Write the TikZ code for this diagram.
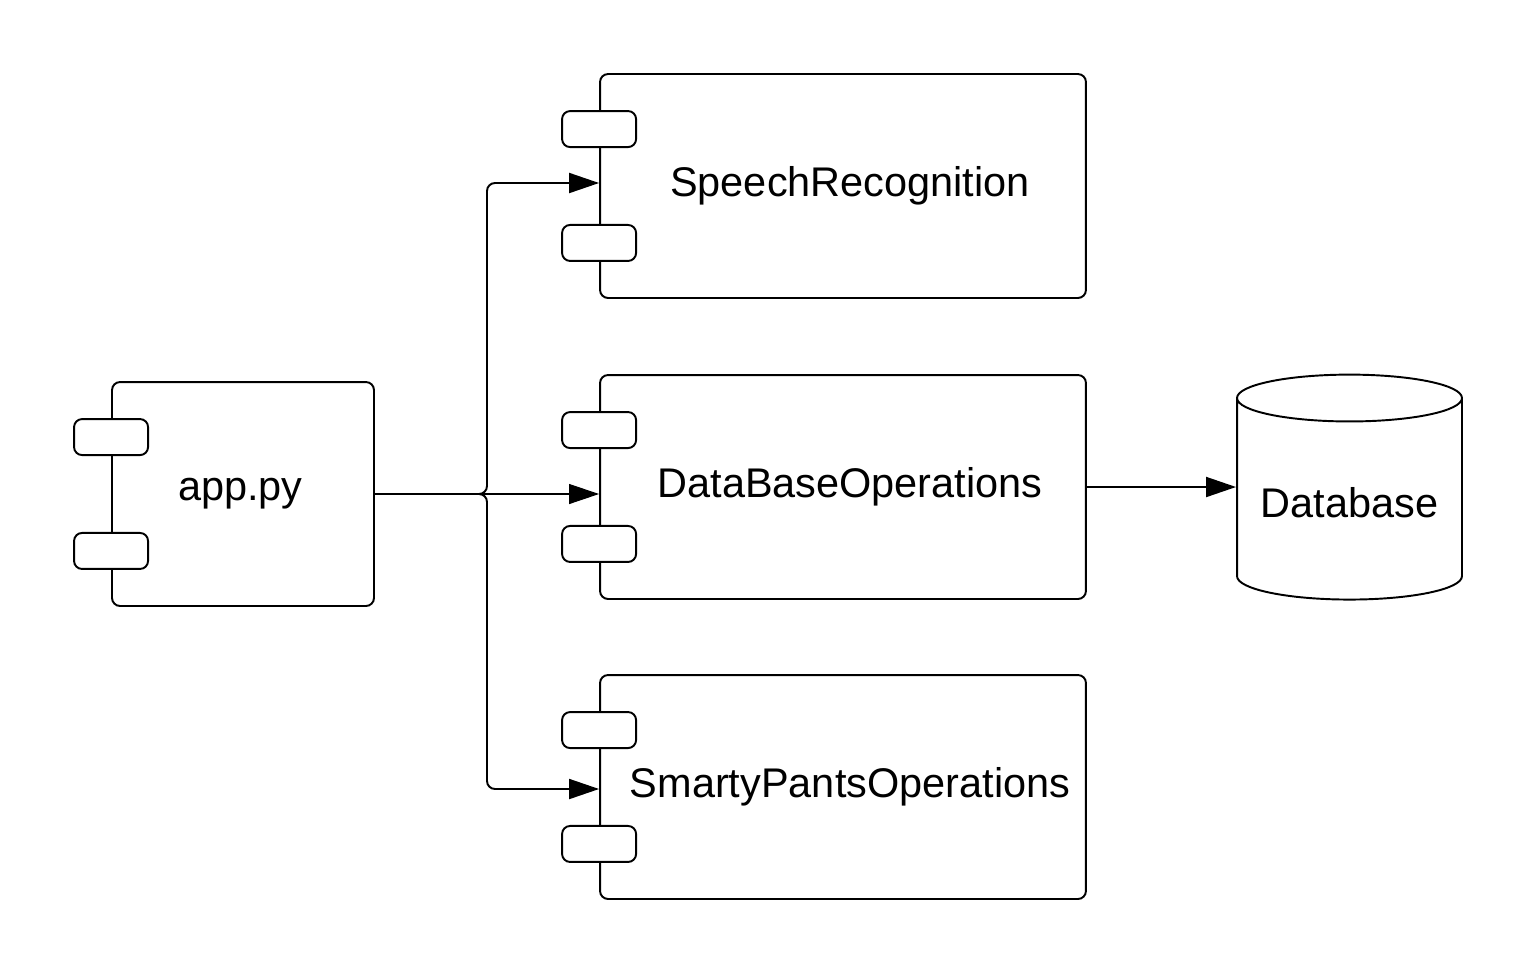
\documentclass[tikz,border=0pt]{standalone}
\usepackage{fontspec}
\setmainfont{Liberation Sans}
\usetikzlibrary{arrows.meta,calc,shapes.geometric}
\tikzset{
    comp/.style = {draw, rectangle, rounded corners=0.16cm,
        minimum width=9.72cm, minimum height=4.48cm,
        line width=1.1pt, align=center},
    tab/.style = {draw, rectangle, rounded corners=0.16cm, fill=white,
        minimum width=1.48cm, minimum height=0.72cm, line width=1.1pt},
    store/.style = {draw, cylinder, shape border rotate=90, aspect=4,
        minimum width=4.5cm, minimum height=4.5cm, line width=1.1pt},
    arrow/.style = {draw, -{Triangle[length=0.6cm,width=0.4cm]}, line width=1.1pt},
    thinarrow/.style = {draw, -{Triangle[length=0.6cm,width=0.4cm]}, line width=0.6pt}
}
\begin{document}
\begin{tikzpicture}[x=0.02cm, y=-0.02cm, font=\fontsize{23.6}{28}\selectfont]
    \useasboundingbox (0,0) rectangle (1538,975);
    % components
    \node [comp, minimum width=5.24cm] (app) at (243,494) {\hspace*{-0.1cm}app.py};
    \node [comp] (sr)  at (843,186) {\hspace*{0.28cm}SpeechRecognition};
    \node [comp] (dbo) at (843,487) {\hspace*{0.28cm}DataBaseOperations};
    \node [comp] (sp)  at (843,787) {\hspace*{0.28cm}SmartyPantsOperations};
    \foreach \c in {app,sr,dbo,sp} {
        \node [tab] (\c-t1) at ($(\c.north west)+(0,56)$) {};
        \node [tab] (\c-t2) at ($(\c.south west)+(0,-56)$) {};
    }
    % storage
    \node [store] (db) at (1349.5,503) {};
    \node (dblabel) at (db.center) {Database};
    % connectors
    \coordinate (split) at (487,494);
    \draw [arrow, rounded corners=0.16cm] (app.east) -- (split) |- ($(sr.west)+(0,-3)$);
    \draw [thinarrow] (app.east) -- (app.east -| dbo.west);
    \draw [arrow, rounded corners=0.16cm] (app.east) -- (split) |- ($(sp.west)+(0,2)$);
    \draw [arrow] (dbo.east) -- (dbo.east -| db.west);
\end{tikzpicture}
\end{document}
